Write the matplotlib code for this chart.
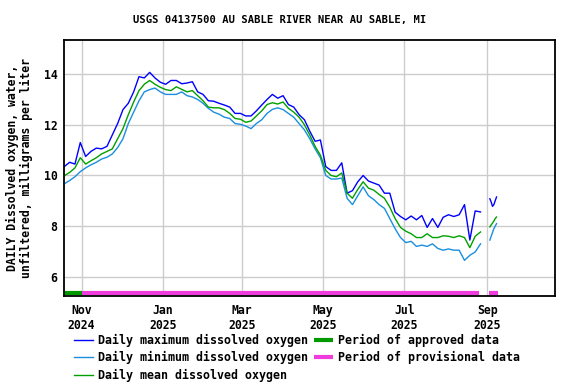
import numpy as np
import pandas as pd
import matplotlib
matplotlib.use('Agg')
import matplotlib.pyplot as plt
import matplotlib.dates as mdates

# daily values read every 4 days, starting 2024-10-19
dates = pd.date_range('2024-10-19', periods=79, freq='4D')

dmax = [10.35, 10.52, 10.45, 11.3, 10.75, 10.95, 11.08, 11.05, 11.15, 11.6,
        12.05, 12.6, 12.85, 13.3, 13.9, 13.85, 14.07, 13.85, 13.68, 13.6,
        13.75, 13.75, 13.62, 13.65, 13.7, 13.3, 13.2, 12.95, 12.93, 12.85,
        12.78, 12.7, 12.45, 12.45, 12.35, 12.35, 12.55, 12.78, 13.0, 13.2,
        13.05, 13.15, 12.8, 12.7, 12.4, 12.2, 11.75, 11.35, 11.4, 10.35,
        10.2, 10.2, 10.5, 9.3, 9.4, 9.75, 10.0, 9.78, 9.7, 9.62,
        9.3, 9.3, 8.55, 8.38, 8.25, 8.4, 8.25, 8.42, 7.95, 8.3,
        7.95, 8.35, 8.45, 8.38, 8.45, 8.85, 7.45, 8.6, 8.56]

dmean = [9.99, 10.12, 10.3, 10.7, 10.45, 10.58, 10.7, 10.85, 10.95, 11.05,
         11.45, 11.85, 12.4, 12.9, 13.35, 13.6, 13.75, 13.6, 13.48, 13.39,
         13.35, 13.5, 13.4, 13.3, 13.35, 13.15, 12.95, 12.7, 12.67, 12.67,
         12.6, 12.45, 12.25, 12.22, 12.1, 12.15, 12.35, 12.55, 12.8, 12.87,
         12.82, 12.9, 12.65, 12.5, 12.3, 12.0, 11.6, 11.15, 10.8, 10.2,
         10.0, 9.95, 10.1, 9.3, 9.1, 9.45, 9.75, 9.5, 9.42, 9.25,
         9.1, 8.75, 8.3, 7.95, 7.8, 7.7, 7.55, 7.55, 7.7, 7.55,
         7.55, 7.62, 7.6, 7.55, 7.62, 7.55, 7.15, 7.6, 7.77]

dmin = [9.67, 9.8, 9.95, 10.15, 10.3, 10.42, 10.52, 10.65, 10.72, 10.85,
        11.1, 11.45, 12.05, 12.5, 12.95, 13.3, 13.39, 13.45, 13.3, 13.2,
        13.2, 13.2, 13.3, 13.15, 13.1, 13.0, 12.85, 12.65, 12.5, 12.42,
        12.3, 12.25, 12.05, 12.02, 11.95, 11.85, 12.05, 12.2, 12.45, 12.61,
        12.67, 12.6, 12.45, 12.3, 12.05, 11.8, 11.45, 11.05, 10.7, 10.0,
        9.86, 9.86, 9.9, 9.1, 8.85, 9.2, 9.55, 9.2, 9.05, 8.85,
        8.7, 8.3, 7.9, 7.55, 7.35, 7.4, 7.2, 7.25, 7.2, 7.3,
        7.12, 7.05, 7.1, 7.05, 7.05, 6.65, 6.85, 6.98, 7.3]

# short record after the gap
sep_dates = pd.date_range('2025-09-03', '2025-09-08', freq='D')
sep_max = [9.08, 8.95, 8.78, 8.85, 9.0, 9.15]
sep_mean = [7.97, 8.05, 8.12, 8.2, 8.3, 8.36]
sep_min = [7.45, 7.6, 7.75, 7.9, 8.0, 8.1]

approved = [('2024-10-18', '2024-11-01')]
provisional = [('2024-11-01', '2025-08-26'), ('2025-09-02', '2025-09-09')]

tick_dates = ['2024-11-01', '2025-01-01', '2025-03-01', '2025-05-01', '2025-07-01', '2025-09-01']
tick_labels = ['Nov\n2024', 'Jan\n2025', 'Mar\n2025', 'May\n2025', 'Jul\n2025', 'Sep\n2025']

c_max = '#0000ff'
c_min = '#1a8ee0'
c_mean = '#00a000'
c_appr = '#009900'
c_prov = '#f03cdc'

plt.rcParams['font.family'] = 'DejaVu Sans Mono'
plt.rcParams['font.weight'] = 'bold'

fig = plt.figure(figsize=(5.76, 3.84), dpi=100)
ax = fig.add_axes([0.1116, 0.229, 0.8514, 0.667])

ax.plot(dates, dmax, color=c_max, lw=1, label='Daily maximum dissolved oxygen')
ax.plot(dates, dmin, color=c_min, lw=1, label='Daily minimum dissolved oxygen')
ax.plot(dates, dmean, color=c_mean, lw=1, label='Daily mean dissolved oxygen')
ax.plot(sep_dates, sep_max, color=c_max, lw=1)
ax.plot(sep_dates, sep_min, color=c_min, lw=1)
ax.plot(sep_dates, sep_mean, color=c_mean, lw=1)

bar_y = 5.38
for i, (a, b) in enumerate(approved):
    ax.plot(pd.to_datetime([a, b]), [bar_y, bar_y], color=c_appr, lw=3,
            solid_capstyle='butt', label='Period of approved data' if i == 0 else None)
for i, (a, b) in enumerate(provisional):
    ax.plot(pd.to_datetime([a, b]), [bar_y, bar_y], color=c_prov, lw=3,
            solid_capstyle='butt', label='Period of provisional data' if i == 0 else None)

x0 = mdates.date2num(pd.Timestamp('2024-10-19'))
ax.set_xlim(x0, x0 + 367.6)
ax.set_ylim(5.24, 15.35)
ax.set_xticks(pd.to_datetime(tick_dates))
ax.set_xticklabels(tick_labels)
ax.set_yticks([6, 8, 10, 12, 14])
ax.tick_params(length=0, labelsize=8.3, pad=6)
ax.tick_params(axis='y', pad=5)
ax.grid(True, color='#cccccc', lw=1)
ax.set_axisbelow(True)
for s in ax.spines.values():
    s.set_linewidth(1.3)
    s.set_color('black')

fig.text(0.033, 0.563, 'DAILY Dissolved oxygen, water,\nunfiltered, milligrams per liter',
         rotation=90, ha='center', va='center', fontsize=8.3, linespacing=1.1)
fig.text(0.486, 0.948, 'USGS 04137500 AU SABLE RIVER NEAR AU SABLE, MI',
         ha='center', va='center', fontsize=7.6)

fig.legend(loc='upper left', bbox_to_anchor=(0.129, 0.13), ncol=2, frameon=False,
           fontsize=8.4, handlelength=1.57, handletextpad=0.45, columnspacing=0.55,
           labelspacing=0.36, borderaxespad=0, borderpad=0)

fig.savefig('out.png', dpi=100)
